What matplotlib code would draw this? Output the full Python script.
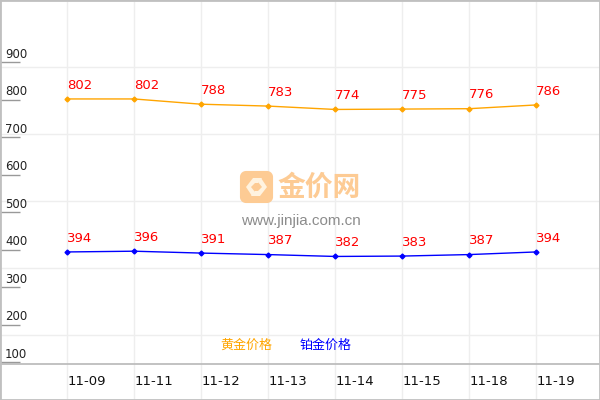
import matplotlib
matplotlib.use("Agg")
import matplotlib.pyplot as plt
from matplotlib.patches import FancyBboxPatch, Polygon

dates = ["11-09", "11-11", "11-12", "11-13", "11-14", "11-15", "11-18", "11-19"]
gold = [802, 802, 788, 783, 774, 775, 776, 786]
platinum = [394, 396, 391, 387, 382, 383, 387, 394]
yticks = [100, 200, 300, 400, 500, 600, 700, 800, 900]

plt.rcParams['font.family'] = ['DejaVu Sans', 'Noto Sans CJK SC']

W, H = 600, 400
fig = plt.figure(figsize=(6, 4), dpi=100)
ax = fig.add_axes([0, 0, 1, 1])

# 67 px per date, 37.5 px per 100 yuan
ax.set_xlim(-1, (W - 67) / 67)
ax.set_ylim(800 - (H - 99.7) / 0.375, 800 + 99.7 / 0.375)


# helper: pixel coords measured from top left of the picture
def px(x, y):
    return x / W, 1 - y / H


for s in ax.spines.values():
    s.set_color("#c0c0c0")
    s.set_linewidth(2)

# grid, fixed pixel spacing in the original
for y in [67, 134, 201, 268, 335]:
    ax.plot([0, 1], [1 - y / H] * 2, transform=ax.transAxes, color="#eeeeee", lw=1, zorder=1)
for i in range(len(dates)):
    ax.axvline(i, color="#eeeeee", lw=1, zorder=1)
ax.plot([0, 1], [1 - 364 / H] * 2, transform=ax.transAxes, color="#b8b8b8", lw=1.2, zorder=2)

ax.set_xticks([])
ax.set_yticks(yticks)
ax.set_yticklabels([])
ax.tick_params(axis="y", direction="in", length=14.4, width=1, color="#999999")
for v in yticks:
    ax.annotate(str(v), (0, v), xycoords=ax.get_yaxis_transform(), xytext=(3.6, 3.2),
                textcoords="offset points", fontsize=8.5, color="#222222", va="baseline")

# watermark logo
orange = "#fdcb94"
ax.add_patch(FancyBboxPatch(px(245.5, 197.5), 22 / W, 21 / H, boxstyle="round,pad=0,rounding_size=0.001",
                            transform=ax.transAxes, fc=orange, ec=orange, lw=8, joinstyle="round", zorder=3))
ax.add_patch(Polygon([px(246, 187), px(253, 178), px(262, 178), px(258, 183), px(255, 183), px(251, 187),
                      px(255, 192), px(252, 196)],
                     transform=ax.transAxes, fc="#fff3e0", ec="none", zorder=4))
ax.add_patch(Polygon([px(267, 187), px(260, 196), px(251, 196), px(255, 191), px(258, 191), px(262, 187),
                      px(258, 182), px(261, 178)],
                     transform=ax.transAxes, fc="#fff3e0", ec="none", zorder=4))
ax.text(*px(319, 188), "金价网", transform=ax.transAxes, fontsize=20, color=orange, fontweight="bold",
        family="Noto Sans CJK SC", ha="center", va="center", zorder=3)
ax.text(*px(301, 221), "www.jinjia.com.cn", transform=ax.transAxes, fontsize=11, color="#8c8c8c",
        family="Liberation Sans", ha="center", va="center", zorder=3)

x = list(range(len(dates)))
ax.plot(x, gold, color="#ffa500", lw=1, marker="D", ms=2.5, zorder=5)
ax.plot(x, platinum, color="#0000ff", lw=1, marker="D", ms=2.5, zorder=5)

for i, d in enumerate(dates):
    ax.annotate(d, (i, 0), xycoords=ax.get_xaxis_transform(), xytext=(0.5, 11),
                textcoords="offset points", fontsize=9.5, color="#111111", va="baseline")
for series in (gold, platinum):
    for i, v in zip(x, series):
        ax.annotate(str(v), (i, v), xytext=(0, 7.4), textcoords="offset points",
                    fontsize=9.5, color="#ff0000", va="baseline", zorder=6)

ax.text(*px(246, 345), "黄金价格", transform=ax.transAxes, fontsize=9.4, color="#ffa500",
        family="Noto Sans CJK SC", ha="center", va="center", zorder=6)
ax.text(*px(326, 345), "铂金价格", transform=ax.transAxes, fontsize=9.4, color="#0000ff",
        family="Noto Sans CJK SC", ha="center", va="center", zorder=6)

fig.savefig("out.png", dpi=100)
